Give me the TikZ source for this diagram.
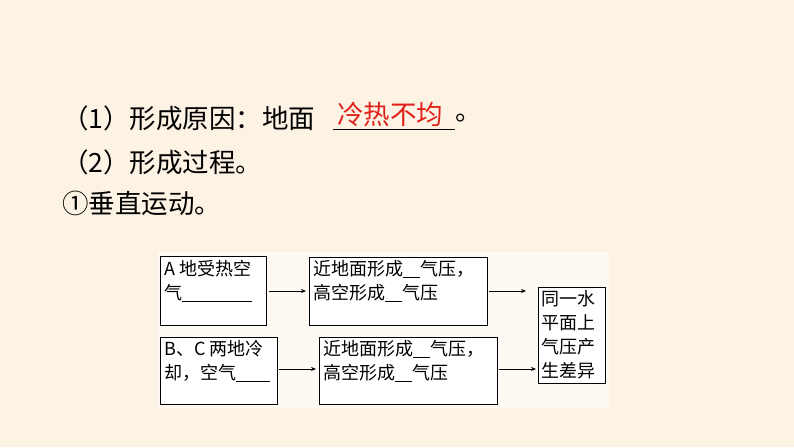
\documentclass[tikz,border=0pt]{standalone}
\usepackage{fontspec}
\newfontfamily\cjk{Noto Sans CJK SC}
\usetikzlibrary{arrows.meta}
\definecolor{bg}{HTML}{FDF3E4}
\definecolor{panel}{HTML}{FEFAF3}
\definecolor{ans}{HTML}{E0201B}
\begin{document}
\begin{tikzpicture}[x=1pt,y=-1pt,
  head/.style={anchor=west,inner sep=0,font=\cjk\fontsize{26.5}{30}\selectfont},
  bx/.style={draw,line width=0.6pt,fill=white},
  bt/.style={anchor=north west,inner sep=0,align=left,font=\cjk\fontsize{18}{24}\selectfont},
  ar/.style={-{Stealth[length=5pt,width=4pt]},line width=0.6pt}]
\useasboundingbox (0,0) rectangle (794,447);
\fill[bg] (0,0) rectangle (794,447);
\node[head] (l1) at (62,118) {（1）形成原因：地面};
\node[head,text=ans] (ansn) at (337,114) {冷热不均};
\draw[line width=0.8pt] (333,129) -- (455,129);
\node[head] (dot) at (455,118) {。};
\node[head] (l2) at (62,162) {（2）形成过程。};
\node[head] (l3) at (62,203) {①垂直运动。};
\fill[panel] (158,252) rectangle (609,408);
\draw[bx] (160,256) rectangle (266,325);
\draw[bx] (309,257) rectangle (487,325);
\draw[bx] (538,287) rectangle (605,383);
\draw[bx] (160,337) rectangle (277,404);
\draw[bx] (319,337) rectangle (497,404);
\node[bt] (t1) at (164,260) {A 地受热空\\气\rule[-2pt]{70pt}{0.5pt}};
\node[bt] (t2) at (313,260) {近地面形成\rule[-2pt]{17pt}{0.5pt}气压，\\高空形成\rule[-2pt]{17pt}{0.5pt}气压};
\node[bt] (t3) at (541,290) {同一水\\平面上\\气压产\\生差异};
\node[bt] (t4) at (164,340) {B、C 两地冷\\却，空气\rule[-2pt]{34pt}{0.5pt}};
\node[bt] (t5) at (323,340) {近地面形成\rule[-2pt]{17pt}{0.5pt}气压，\\高空形成\rule[-2pt]{17pt}{0.5pt}气压};
\coordinate (a1s) at (269,291); \coordinate (a1e) at (306,291);
\coordinate (a2s) at (489,291); \coordinate (a2e) at (526,291);
\coordinate (a3s) at (279,369); \coordinate (a3e) at (316,369);
\coordinate (a4s) at (499,369); \coordinate (a4e) at (536,369);
\draw[ar] (a1s) -- (a1e);
\draw[ar] (a2s) -- (a2e);
\draw[ar] (a3s) -- (a3e);
\draw[ar] (a4s) -- (a4e);
\end{tikzpicture}
\end{document}
